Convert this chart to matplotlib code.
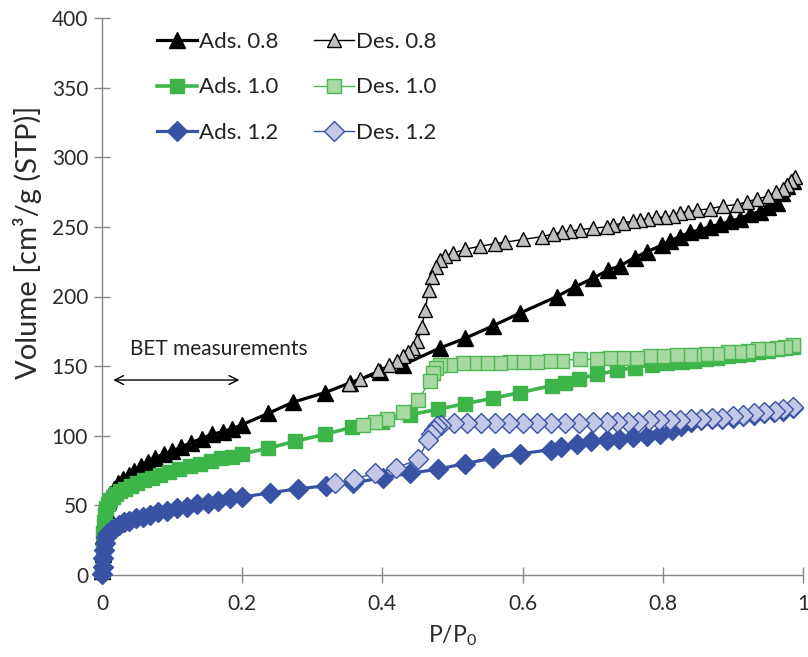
import matplotlib
matplotlib.use("Agg")
import matplotlib.pyplot as plt

plt.rcParams['font.family'] = ['Lato', 'DejaVu Sans']
plt.rcParams['mathtext.fontset'] = 'custom'
plt.rcParams['mathtext.rm'] = 'Lato'

# ---------------- data ----------------
ads08_x = [0.000, 0.001, 0.002, 0.003, 0.005, 0.008, 0.012, 0.017, 0.023, 0.030, 0.038, 0.046,
           0.055, 0.065, 0.076, 0.088, 0.100, 0.113, 0.127, 0.142, 0.157, 0.172, 0.186, 0.200,
           0.237, 0.272, 0.318, 0.354, 0.397, 0.430, 0.482, 0.518, 0.558, 0.596, 0.649, 0.675,
           0.700, 0.722, 0.739, 0.760, 0.777, 0.799, 0.810, 0.824, 0.839, 0.853, 0.867, 0.882,
           0.896, 0.910, 0.924, 0.939, 0.950, 0.963, 0.970, 0.977, 0.986]
ads08_y = [3, 15, 28, 38, 47, 53, 58, 62, 66, 69, 72, 75,
           78, 81, 84, 87, 89, 92, 95, 98, 101, 103, 105, 108,
           116, 124, 131, 138, 146, 151, 163, 170, 179, 188, 200, 207,
           213, 219, 222, 228, 232, 237, 240, 243, 246, 248, 250, 252,
           254, 256, 259, 261, 264, 267, 274, 279, 283]

des08_x = [0.988, 0.983, 0.977, 0.971, 0.962, 0.950, 0.934, 0.920, 0.906, 0.886, 0.867, 0.849,
           0.836, 0.824, 0.815, 0.803, 0.791, 0.779, 0.767, 0.757, 0.743, 0.729, 0.720, 0.700,
           0.682, 0.668, 0.656, 0.644, 0.628, 0.601, 0.575, 0.561, 0.539, 0.518, 0.500, 0.490,
           0.482, 0.476, 0.471, 0.466, 0.461, 0.456, 0.450, 0.443, 0.436, 0.429, 0.421, 0.410,
           0.394, 0.368, 0.352]
des08_y = [286, 283, 280, 277, 275, 272, 270, 268, 266, 265, 263, 262,
           261, 260, 258, 257, 257, 256, 255, 254, 253, 251, 250, 249,
           248, 247, 246, 245, 243, 241, 239, 238, 236, 234, 231, 229,
           226, 221, 214, 205, 190, 178, 168, 163, 160, 157, 154, 151,
           147, 141, 137]

ads10_x = [0.000, 0.001, 0.002, 0.003, 0.004, 0.006, 0.008, 0.011, 0.015, 0.020, 0.026, 0.033,
           0.041, 0.050, 0.060, 0.071, 0.083, 0.096, 0.110, 0.125, 0.140, 0.155, 0.170, 0.185,
           0.200, 0.237, 0.275, 0.318, 0.356, 0.399, 0.439, 0.479, 0.518, 0.558, 0.596, 0.642,
           0.660, 0.680, 0.706, 0.735, 0.760, 0.785, 0.806, 0.827, 0.845, 0.862, 0.878, 0.893,
           0.908, 0.922, 0.936, 0.950, 0.963, 0.975, 0.986]
ads10_y = [3, 18, 30, 38, 44, 48, 51, 54, 56, 58, 60, 62,
           64, 66, 68, 70, 72, 74, 76, 78, 80, 82, 84, 85,
           87, 91, 96, 101, 106, 110, 115, 119, 123, 127, 131, 136,
           138, 141, 144, 147, 149, 151, 152, 153, 154, 155, 156, 157,
           158, 159, 160, 161, 162, 163, 164]

des10_x = [0.986, 0.975, 0.963, 0.950, 0.936, 0.922, 0.908, 0.893, 0.878, 0.862, 0.845, 0.839,
           0.820, 0.800, 0.782, 0.763, 0.743, 0.725, 0.706, 0.682, 0.656, 0.639, 0.620, 0.601,
           0.582, 0.568, 0.549, 0.530, 0.515, 0.496, 0.482, 0.476, 0.472, 0.468, 0.451, 0.430,
           0.406, 0.389, 0.372]
des10_y = [165, 164, 163, 162, 162, 161, 160, 160, 159, 159, 158, 158,
           158, 157, 157, 156, 156, 156, 155, 155, 154, 154, 153, 153,
           153, 152, 152, 152, 152, 151, 151, 149, 145, 139, 126, 117,
           112, 110, 108]

ads12_x = [0.000, 0.001, 0.002, 0.003, 0.004, 0.006, 0.009, 0.013, 0.018, 0.024, 0.031, 0.039,
           0.048, 0.058, 0.068, 0.080, 0.093, 0.107, 0.121, 0.136, 0.151, 0.166, 0.182, 0.200,
           0.240, 0.280, 0.320, 0.358, 0.401, 0.439, 0.479, 0.518, 0.558, 0.596, 0.640, 0.655,
           0.677, 0.697, 0.720, 0.738, 0.757, 0.777, 0.796, 0.813, 0.826, 0.840, 0.855, 0.870,
           0.885, 0.900, 0.915, 0.930, 0.945, 0.958, 0.972, 0.986]
ads12_y = [1, 6, 12, 18, 23, 27, 30, 32, 34, 36, 38, 39,
           41, 42, 43, 45, 46, 48, 49, 51, 52, 53, 55, 56,
           59, 62, 64, 66, 70, 73, 76, 80, 84, 87, 90, 92,
           94, 96, 97, 98, 99, 100, 101, 104, 107, 110, 111, 112,
           112, 113, 114, 115, 116, 117, 118, 120]

des12_x = [0.986, 0.972, 0.960, 0.945, 0.930, 0.915, 0.900, 0.885, 0.870, 0.855, 0.840, 0.825,
           0.810, 0.795, 0.780, 0.765, 0.750, 0.735, 0.720, 0.700, 0.680, 0.660, 0.640, 0.620,
           0.600, 0.580, 0.560, 0.540, 0.520, 0.502, 0.484, 0.478, 0.473, 0.469, 0.465, 0.451,
           0.420, 0.389, 0.360, 0.332]
des12_y = [121, 119, 118, 117, 116, 115, 114, 113, 113, 112, 112, 111,
           111, 111, 111, 110, 110, 110, 110, 110, 109, 109, 109, 109,
           109, 109, 109, 109, 109, 109, 108, 107, 104, 101, 97, 83,
           77, 73, 69, 66]

x_ticks = [0, 0.2, 0.4, 0.6, 0.8, 1.0]
x_tick_labels = ['0', '0.2', '0.4', '0.6', '0.8', '1']
y_ticks = [0, 50, 100, 150, 200, 250, 300, 350, 400]

# ---------------- figure ----------------
fig = plt.figure(figsize=(8.08, 6.57), dpi=100)
ax = fig.add_axes([102/808, 82/657, 701/808, 557/657])

black = '#000000'
green = '#3db54a'
blue = '#3853a4'

ax.plot(ads08_x, ads08_y, '-^', color=black, lw=2.3, ms=11, mfc=black, mec=black,
        label='Ads. 0.8', clip_on=False, zorder=3)
ax.plot(des08_x, des08_y, '-^', color=black, lw=1.0, ms=10.5, mfc='#c0c0c0', mec=black, mew=1.0,
        label='Des. 0.8', clip_on=False, zorder=3)
ax.plot(ads10_x, ads10_y, '-s', color=green, lw=2.6, ms=10, mfc=green, mec=green,
        label='Ads. 1.0', clip_on=False, zorder=3)
ax.plot(des10_x, des10_y, '-s', color='#4cb854', lw=1.0, ms=10, mfc='#a8d9a2', mec='#4cb854', mew=1.0,
        label='Des. 1.0', clip_on=False, zorder=3)
ax.plot(ads12_x, ads12_y, '-D', color=blue, lw=2.3, ms=10.5, mfc=blue, mec=blue,
        label='Ads. 1.2', clip_on=False, zorder=3)
ax.plot(des12_x, des12_y, '-D', color=blue, lw=1.0, ms=10.5, mfc='#c4c7e6', mec=blue, mew=1.0,
        label='Des. 1.2', clip_on=False, zorder=3)

ax.set_xlim(0, 1)
ax.set_ylim(0, 400)
ax.set_xticks(x_ticks)
ax.set_xticklabels(x_tick_labels)
ax.set_yticks(y_ticks)

for s in ['top', 'right']:
    ax.spines[s].set_visible(False)
for s in ['left', 'bottom']:
    ax.spines[s].set_color('#868686')
    ax.spines[s].set_linewidth(1.0)

ax.tick_params(axis='both', direction='inout', length=12, width=1.0, color='#868686',
               labelsize=15, labelcolor='#2a2a2a')
ax.tick_params(axis='x', pad=8)
ax.tick_params(axis='y', pad=4)

ax.set_xlabel('P/P$_\\mathregular{0}$', fontsize=16.5, color='#2a2a2a')
ax.set_ylabel('Volume [cm³/g (STP)]', fontsize=21, color='#2a2a2a')
ax.xaxis.set_label_coords(0.5, -0.086)
ax.yaxis.set_label_coords(-0.086, 0.598)

# BET annotation
ax.annotate('', xy=(0.012, 140), xytext=(0.2, 140),
            arrowprops=dict(arrowstyle='<->', color='black', lw=1.0, mutation_scale=16),
            annotation_clip=False)
ax.text(0.04, 162, 'BET measurements', fontsize=15, color='#222222', va='center', ha='left')

# legend: order columns Ads / Des
handles, labels = ax.get_legend_handles_labels()
order = [0, 2, 4, 1, 3, 5]
leg = ax.legend([handles[i] for i in order], [labels[i] for i in order],
                ncol=2, loc='upper left', bbox_to_anchor=(0.078, 0.975),
                frameon=False, fontsize=16, numpoints=1, handlelength=1.8,
                handletextpad=0.1, columnspacing=1.6, labelspacing=1.15,
                borderpad=0, borderaxespad=0)
for t in leg.get_texts():
    t.set_color('#222222')

fig.savefig('out.png', dpi=100)
